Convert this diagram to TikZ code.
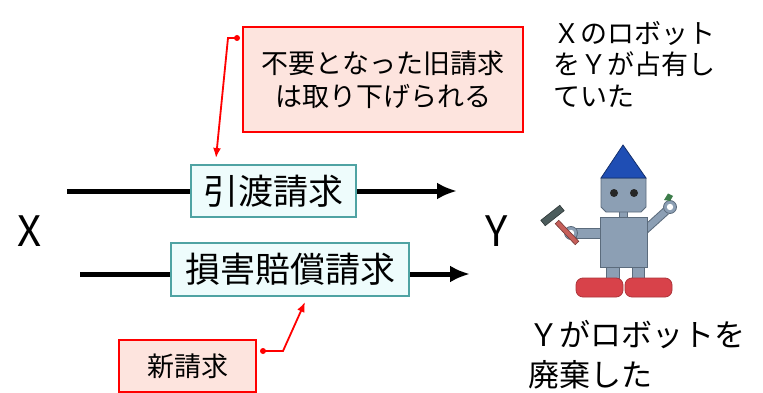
\documentclass[tikz,border=0pt]{standalone}
\usepackage{fontspec}
\setmainfont{Noto Sans CJK JP}
\usetikzlibrary{arrows.meta}
\definecolor{boxcyan}{HTML}{EEFCFC}
\definecolor{boxteal}{HTML}{4FA3A3}
\definecolor{notepink}{HTML}{FDE4DE}
\definecolor{robotgray}{HTML}{8C9FB4}
\definecolor{robotline}{HTML}{5B6B7C}
\definecolor{hatblue}{HTML}{1F4EB4}
\definecolor{footred}{HTML}{D8424A}
\definecolor{hammerhead}{HTML}{4C5C5C}
\definecolor{hammerhandle}{HTML}{C65F5A}
\tikzset{
  >={Latex[length=20pt,width=17pt]},
}
\tikzstyle{vector}=[line width=5pt,->]
\tikzstyle{claim}=[draw=boxteal,line width=1.5pt,fill=boxcyan,inner sep=0pt,font=\fontsize{35}{40}\selectfont]
\tikzstyle{note}=[draw=red,line width=2pt,fill=notepink,inner sep=0pt,align=center,font=\fontsize{27}{33}\selectfont]
\tikzstyle{callout}=[red,line width=1.8pt,-{Latex[length=10pt,width=8pt]}]
\tikzstyle{party}=[font=\fontsize{42}{48}\selectfont]
\tikzstyle{robot}=[fill=robotgray,draw=robotline,line width=.8pt]

\begin{document}
\begin{tikzpicture}[x=1pt,y=-1pt]
    \useasboundingbox[fill=white] (0,0) rectangle (763,393);
    \node[party] (partyX) at (30,231) {X};
    \node[party] (partyY) at (497,231) {Y};
    \coordinate (x1) at (67,191);
    \coordinate (y1) at (457,191);
    \coordinate (x2) at (80,274);
    \coordinate (y2) at (470,274);
    \draw[vector] (x1)--(y1);
    \draw[vector] (x2)--(y2);
    \node[claim,minimum width=165pt,minimum height=52pt] (hikiwatashi) at (273.5,191) {引渡請求};
    \node[claim,minimum width=238pt,minimum height=53pt] (songai) at (290,269.5) {損害賠償請求};
    \node[note,minimum width=280pt,minimum height=105pt] (oldclaim) at (383,79.5) {不要となった旧請求\\は取り下げられる};
    \node[note,minimum width=137pt,minimum height=52pt] (newclaim) at (187.5,366) {新請求};
    \coordinate (olddot) at (237,38);
    \coordinate (oldtip) at (216,158);
    \coordinate (newdot) at (263,351);
    \coordinate (newtip) at (305,302);
    \fill[red] (olddot) circle (3);
    \draw[callout] (olddot)--(228,38)--(oldtip);
    \fill[red] (newdot) circle (3);
    \draw[callout] (newdot)--(283,351)--(newtip);
    \node[anchor=west,align=left,font=\fontsize{27}{31.5}\selectfont] (occupied) at (550,64) {Ｘのロボット\\をＹが占有し\\ていた};
    \node[anchor=west,align=left,font=\fontsize{31}{40}\selectfont] (discarded) at (525,355) {Ｙがロボットを\\廃棄した};
    % robot
    \draw[robotline,line width=8.5pt] (645,230)--(666,211);
    \draw[robotgray,line width=6.5pt] (645,230)--(666,211);
    \draw[robot] (670,207) circle (6.5);
    \fill[white] (670,207) circle (3.2);
    \fill[hammerhead!80!green] (664,200)--(668,193.5)--(673,196)--(670,201)--cycle;
    \draw[robot] (576,228) rectangle (601,238);
    \draw[robot] (571,233) circle (6.5);
    \fill[white] (571,233) circle (3.2);
    \draw[fill=hammerhandle,draw=hammerhandle!60!black,line width=.6pt] (558.8,220.3)--(578.8,241.3)--(575.2,244.7)--(555.2,223.7)--cycle;
    \draw[fill=hammerhead,draw=hammerhead!60!black,line width=.6pt] (540.8,220.3)--(559.8,205.3)--(564.2,210.7)--(545.2,225.7)--cycle;
    \draw[robot] (606,266) rectangle (619,279);
    \draw[robot] (632,266) rectangle (644,279);
    \draw[fill=footred,draw=footred!80!black,line width=.8pt,rounded corners=7pt] (576,278) rectangle (623,297);
    \draw[fill=footred,draw=footred!80!black,line width=.8pt,rounded corners=7pt] (625,278) rectangle (672,297);
    \draw[robot] (619,211) rectangle (627,218);
    \draw[robot] (600,217) rectangle (647,267);
    \draw[robot] (601,178)--(646,178)--(646,207)--(641,212)--(606,212)--(601,207)--cycle;
    \fill[black!85] (614,193) circle (4) (634,193) circle (4);
    \draw[fill=hatblue,draw=hatblue!60!black,line width=.8pt] (601,178)--(623,145)--(646,178)--cycle;
\end{tikzpicture}
\end{document}
